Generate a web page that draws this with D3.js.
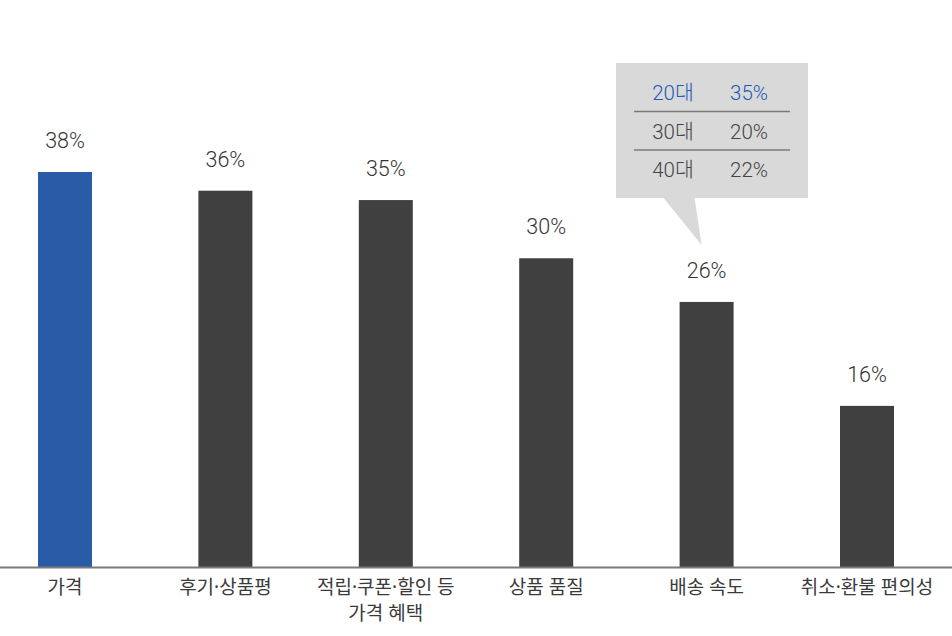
<!DOCTYPE html>
<html>
<head>
<meta charset="utf-8">
<script src="https://cdn.jsdelivr.net/npm/d3@7.9.0/dist/d3.min.js"></script>
<style>
  html, body { margin: 0; padding: 0; background: #fff; }
  svg { display: block; font-family: "Noto Sans", "Noto Sans CJK KR", sans-serif; }
</style>
</head>
<body>
<svg id="chart" width="952" height="636"></svg>
<script>
// data
const categories = ["가격", "후기·상품평", "적립·쿠폰·할인 등\n가격 혜택", "상품 품질", "배송 속도", "취소·환불 편의성"];
const values = [38.0, 36.2, 35.3, 29.7, 25.5, 15.5];
const highlight = "가격";
const ageGroups = ["20대", "30대", "40대"];
const ageValues = [35, 20, 22];
const calloutFor = "배송 속도";

const width = 952, height = 636;
const baseY = 567;

const svg = d3.select("#chart");

const x = d3.scalePoint()
    .domain(categories)
    .range([65, 867]);
const barW = 54;

const y = d3.scaleLinear()
    .domain([0, 38])
    .range([baseY, 172]);

// bars
svg.selectAll("rect.bar")
    .data(categories)
    .enter()
    .append("rect")
    .attr("class", "bar")
    .attr("x", d => x(d) - barW / 2)
    .attr("y", (d, i) => y(values[i]))
    .attr("width", barW)
    .attr("height", (d, i) => baseY - y(values[i]))
    .attr("fill", d => d === highlight ? "#2a5ba6" : "#404040");

// value labels
svg.selectAll("text.val")
    .data(categories)
    .enter()
    .append("text")
    .attr("class", "val")
    .attr("x", d => x(d))
    .attr("y", (d, i) => y(values[i]) - 24)
    .attr("text-anchor", "middle")
    .attr("font-family", "Roboto, 'Noto Sans', sans-serif")
    .attr("font-weight", 300)
    .attr("font-size", 21.5)
    .attr("fill", "#333")
    .text((d, i) => Math.round(values[i]) + "%");

// baseline
svg.append("line")
    .attr("x1", 0).attr("x2", width)
    .attr("y1", baseY + 0.5).attr("y2", baseY + 0.5)
    .attr("stroke", "#7a7a7a")
    .attr("stroke-width", 2);

// category labels
const cat = svg.selectAll("text.cat")
    .data(categories)
    .enter()
    .append("text")
    .attr("class", "cat")
    .attr("text-anchor", "middle")
    .attr("font-size", 19)
    .attr("fill", "#3a3a3a");

cat.each(function (d) {
    const lines = d.split("\n");
    d3.select(this).selectAll("tspan")
        .data(lines)
        .enter()
        .append("tspan")
        .attr("x", x(d))
        .attr("y", (l, j) => 594 + j * 26)
        .text(l => l);
});

// callout box
const tipX = x(calloutFor) - 5;
const tipY = 245;
const box = { x0: 616, x1: 808, y0: 63, y1: 198 };

svg.append("path")
    .attr("d", `M${box.x0},${box.y0} H${box.x1} V${box.y1} H${tipX - 7} L${tipX},${tipY} L${tipX - 38},${box.y1} H${box.x0} Z`)
    .attr("fill", "#d9d9d9");

const colA = 673, colB = 749;
const rowY = d3.scalePoint().domain(ageGroups).range([93, 170]);

svg.selectAll("line.sep")
    .data(ageGroups.slice(1))
    .enter()
    .append("line")
    .attr("class", "sep")
    .attr("x1", 634).attr("x2", 790)
    .attr("y1", d => rowY(d) - 20).attr("y2", d => rowY(d) - 20)
    .attr("stroke", "#7a7a7a")
    .attr("stroke-width", 1.5);

const rows = svg.selectAll("g.row")
    .data(ageGroups)
    .enter()
    .append("g")
    .attr("class", "row")
    .attr("fill", (d, i) => i === 0 ? "#1f5bb5" : "#444")
    .attr("font-size", 20.5)
    .attr("font-weight", 300)
    .attr("text-anchor", "middle");

rows.append("text")
    .attr("x", colA)
    .attr("y", d => rowY(d) + 7)
    .attr("font-family", "Roboto, 'Noto Sans CJK KR', sans-serif")
    .text(d => d);

rows.append("text")
    .attr("x", colB)
    .attr("y", d => rowY(d) + 7)
    .attr("font-family", "Roboto, 'Noto Sans', sans-serif")
    .text((d, i) => ageValues[i] + "%");
</script>
</body>
</html>
